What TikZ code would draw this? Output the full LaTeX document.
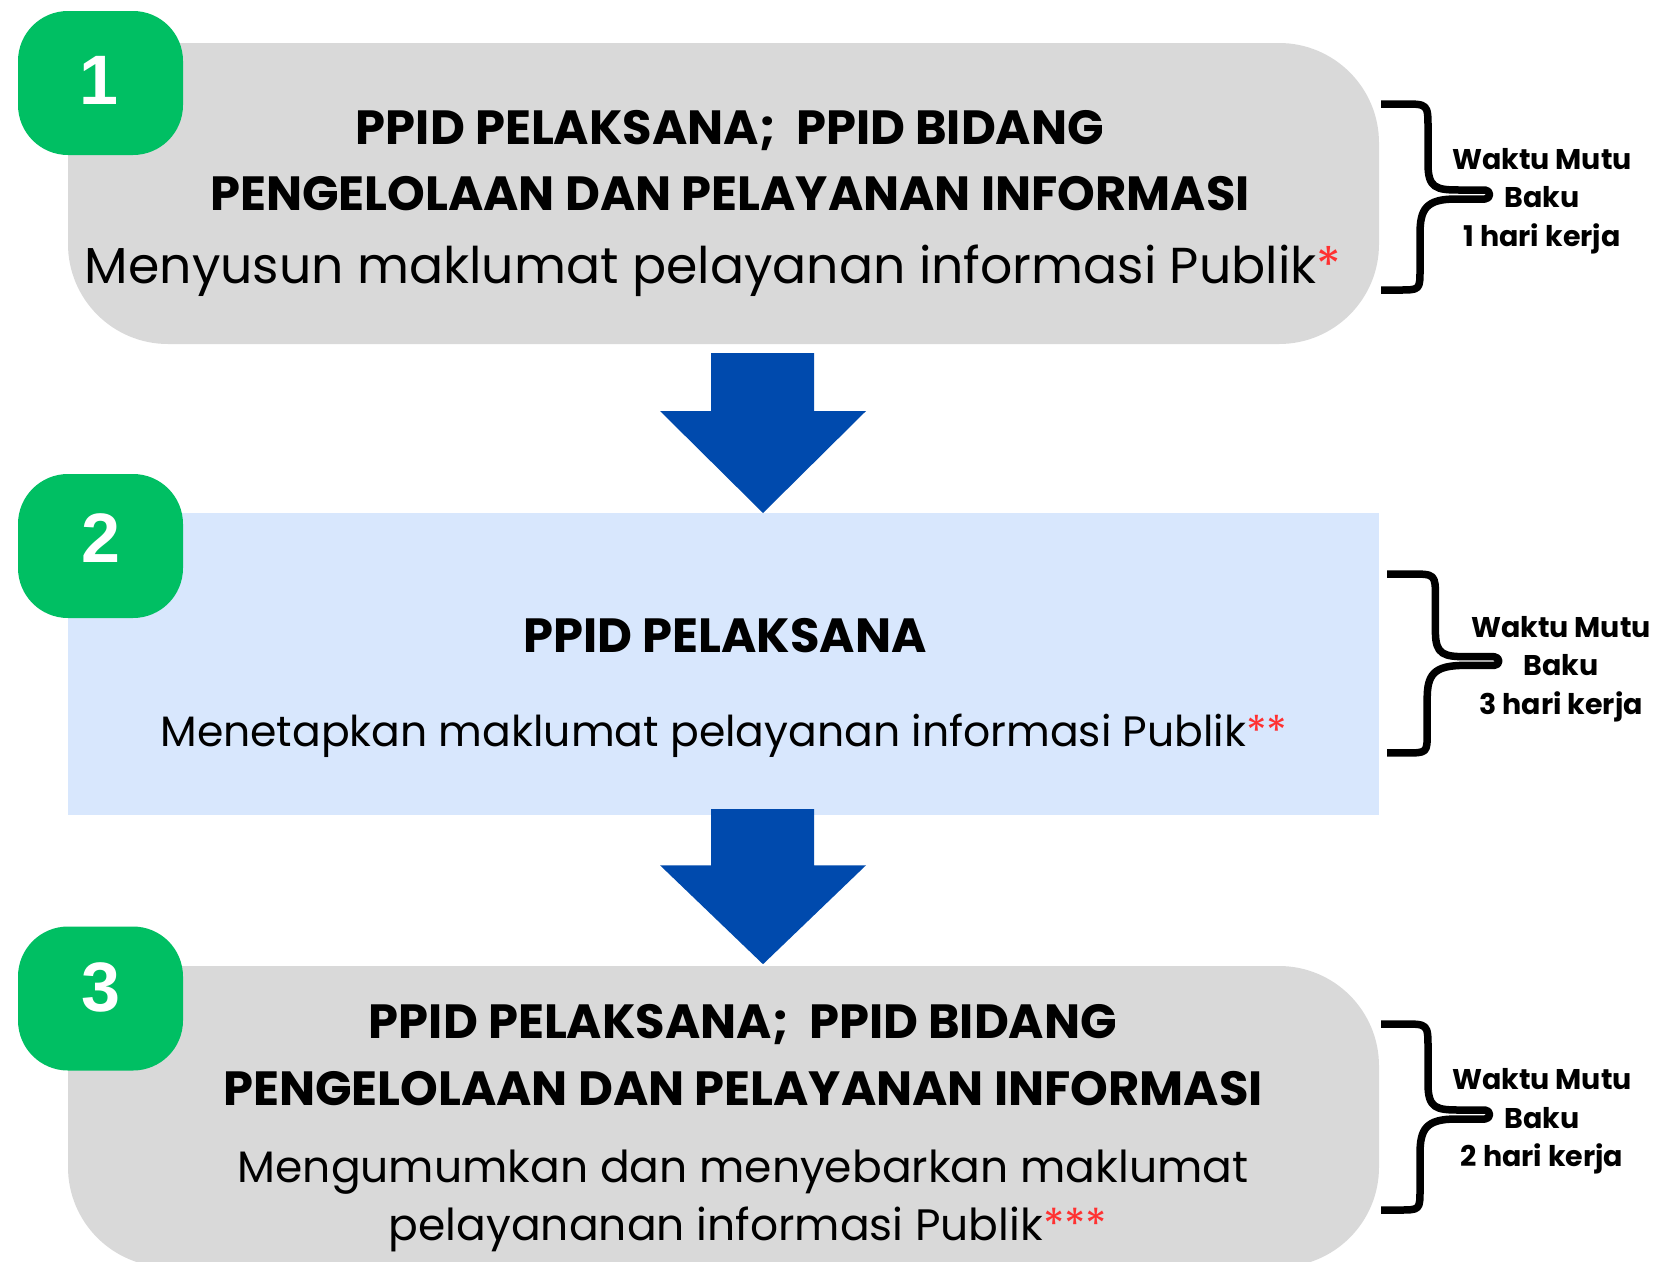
\documentclass[tikz,border=0pt]{standalone}
\usepackage{fontspec}
\setmainfont{Poppins}
\newfontfamily\numfont{Liberation Sans}
\definecolor{boxgray}{HTML}{D9D9D9}
\definecolor{boxblue}{HTML}{D8E7FD}
\definecolor{stepgreen}{HTML}{00BF63}
\definecolor{arrowblue}{HTML}{004AAD}
\definecolor{starred}{HTML}{FF3131}
\tikzset{
  graybox/.style={rectangle, fill=boxgray, rounded corners=100pt, minimum width=1311pt, minimum height=301pt, inner sep=0pt},
  bluebox/.style={rectangle, fill=boxblue, minimum width=1311pt, minimum height=302pt, inner sep=0pt},
  greenbox/.style={rectangle, fill=stepgreen, rounded corners=50pt, minimum width=165pt, minimum height=144pt, inner sep=0pt},
  numlabel/.style={inner sep=0pt, text=white, font=\numfont\bfseries\fontsize{70}{70}\selectfont},
  titletext/.style={anchor=base, inner sep=0pt, font=\bfseries\fontsize{48}{58}\selectfont},
  bodytext/.style={anchor=base, inner sep=0pt, font=\fontsize{50.5}{60}\selectfont},
  sidetext/.style={inner sep=0pt, align=center, font=\bfseries\fontsize{28.5}{38.5}\selectfont},
  bracestyle/.style={line width=7.5pt, line join=round, black},
  wbrace/.pic={\draw[bracestyle] (0,0) -- (22,0) .. controls (47,0) .. (47,25) -- (47,60)
      .. controls (47,84) and (55,86) .. (78,86) -- (104,86)
      .. controls (110,86) and (110,95) .. (104,95) -- (75,95)
      .. controls (45,95) and (39,105) .. (39,130) -- (39,165)
      .. controls (39,186) .. (18,186) -- (0,186);},
  downarrow/.pic={\fill[arrowblue] (-52,0) -- (51,0) -- (51,58) -- (103,58) -- (0,160) -- (-103,58) -- (-52,58) -- cycle;}
}
\begin{document}
\begin{tikzpicture}[x=1pt,y=-1pt]
\path[use as bounding box] (0,0) rectangle (1656,1261);
\clip (0,0) rectangle (1656,1261);
\fill[white] (0,0) rectangle (1656,1261);

% boxes
\node[graybox] (box1) at (723.5,193.5) {};
\node[bluebox] (box2) at (723.5,664) {};
\node[graybox] (box3) at (723.5,1116.5) {};

% arrows
\pic at (763,353) {downarrow};
\pic[yscale=0.97] at (763,809) {downarrow};

% green number boxes
\node[greenbox] (g1) at (100.5,83) {};
\node[greenbox] (g2) at (100.5,546) {};
\node[greenbox] (g3) at (100.5,998.5) {};
\node[numlabel] (n1) at (98.5,80) {1};
\node[numlabel] (n2) at (100.5,538.5) {2};
\node[numlabel] (n3) at (100.5,987) {3};

% box 1 text
\node[titletext] (t1a) at (730,144) {PPID PELAKSANA;\ \ PPID BIDANG};
\node[titletext] (t1b) at (730,210) {PENGELOLAAN DAN PELAYANAN INFORMASI};
\node[bodytext] (t1c) at (713,283) {Menyusun maklumat pelayanan informasi Publik\textcolor{starred}{*}};

% box 2 text
\node[titletext] (t2a) at (725,652) {PPID PELAKSANA};
\node[bodytext, font=\fontsize{42.5}{52}\selectfont] (t2b) at (724,746) {Menetapkan maklumat pelayanan informasi Publik\textcolor{starred}{**}};

% box 3 text
\node[titletext] (t3a) at (743,1038) {PPID PELAKSANA;\ \ PPID BIDANG};
\node[titletext] (t3b) at (743,1105) {PENGELOLAAN DAN PELAYANAN INFORMASI};
\node[bodytext, font=\fontsize{44}{56}\selectfont] (t3c) at (743,1182) {Mengumumkan dan menyebarkan maklumat};
\node[bodytext, font=\fontsize{44}{56}\selectfont] (t3d) at (748,1240) {pelayananan informasi Publik\textcolor{starred}{***}};

% braces
\pic at (1381,104) {wbrace};
\pic[yscale=0.962, xscale=1.03] at (1387,574) {wbrace};
\pic at (1381,1024) {wbrace};

\node[sidetext] (w1) at (1542,201) {Waktu Mutu\\Baku\\1 hari kerja};
\node[sidetext] (w2) at (1561,669) {Waktu Mutu\\Baku\\3 hari kerja};
\node[sidetext] (w3) at (1542,1121.5) {Waktu Mutu\\Baku\\2 hari kerja};
\end{tikzpicture}
\end{document}
